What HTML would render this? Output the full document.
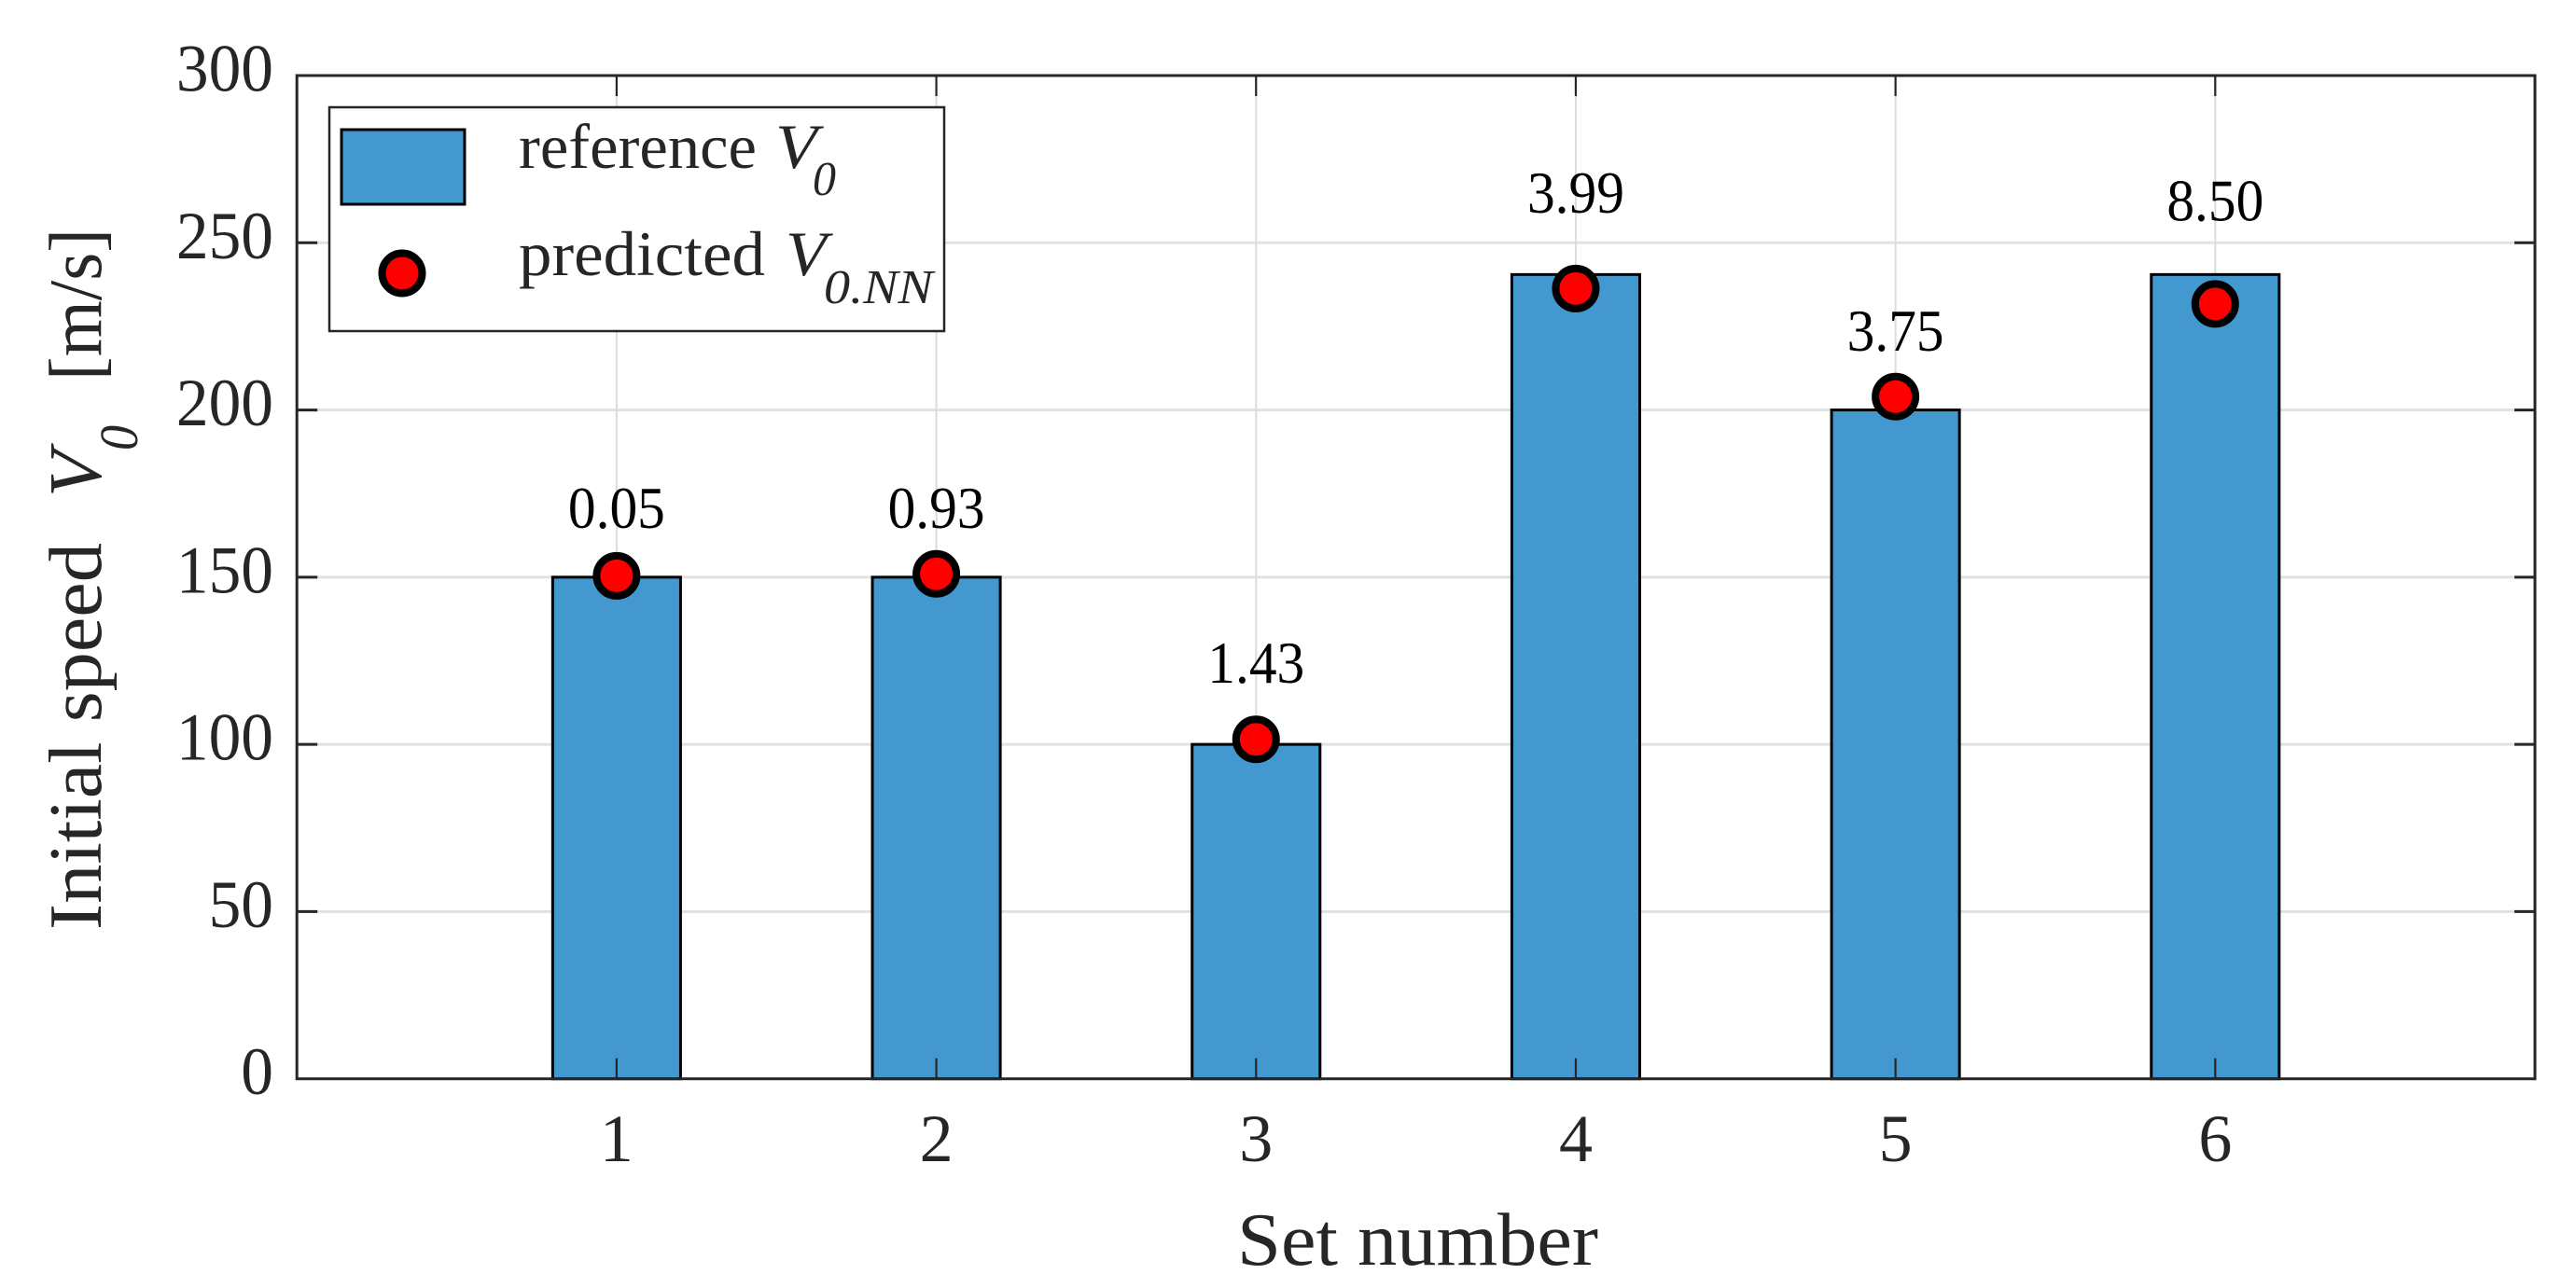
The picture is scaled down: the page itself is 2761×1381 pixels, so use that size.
<!DOCTYPE html>
<html lang="en">
<head>
<meta charset="utf-8">
<title>Initial speed per set</title>
<style>
html,body{margin:0;padding:0;background:#fff;}
svg{display:block;}
text{font-family:"Liberation Serif",serif;fill:#262626;}
</style>
</head>
<body>
<svg id="chart" xmlns="http://www.w3.org/2000/svg" width="2761" height="1381" viewBox="0 0 2761 1381">
  <rect x="0" y="0" width="2761" height="1381" fill="#ffffff"/>
  <g id="grid"></g>
  <g id="bars"></g>
  <g id="axes"></g>
  <g id="points"></g>
  <g id="labels"></g>

  <g>
    <text x="1326" y="1356" font-size="80" textLength="387" lengthAdjust="spacingAndGlyphs">Set number</text>
  </g>
  <g transform="translate(108,997) rotate(-90)">
    <text x="0" y="0" font-size="80" textLength="415" lengthAdjust="spacingAndGlyphs">Initial speed</text>
    <text x="464" y="0" font-size="80" font-style="italic" textLength="50" lengthAdjust="spacingAndGlyphs">V</text>
    <text x="514" y="39" font-size="58" font-style="italic" textLength="27" lengthAdjust="spacingAndGlyphs">0</text>
    <text x="589" y="0" font-size="80" textLength="163" lengthAdjust="spacingAndGlyphs">[m/s]</text>
  </g>

  <g>
    <rect x="353" y="115" width="659" height="240" fill="#ffffff" stroke="#262626" stroke-width="2.5"/>
    <g>
      <rect x="366" y="139" width="132" height="80" fill="#4399cf" stroke="#000000" stroke-width="3"/>
      <text x="556" y="180" font-size="68" textLength="255" lengthAdjust="spacingAndGlyphs">reference</text>
      <text x="831" y="180" font-size="68" font-style="italic" textLength="45" lengthAdjust="spacingAndGlyphs">V</text>
      <text x="871" y="209" font-size="52" font-style="italic" textLength="25" lengthAdjust="spacingAndGlyphs">0</text>
    </g>
    <g>
      <circle cx="431" cy="293" r="21.5" fill="#ff0000" stroke="#000000" stroke-width="8"/>
      <text x="556" y="295" font-size="68" textLength="264" lengthAdjust="spacingAndGlyphs">predicted</text>
      <text x="842" y="295" font-size="68" font-style="italic" textLength="44" lengthAdjust="spacingAndGlyphs">V</text>
      <text x="883" y="325" font-size="52" font-style="italic" textLength="117" lengthAdjust="spacingAndGlyphs">0.NN</text>
    </g>
  </g>
</svg>

<script>
const setNumbers = [1, 2, 3, 4, 5, 6];
const referenceValues = [150, 150, 100, 240.5, 200, 240.5];
const predictedValues = [150.4, 151, 101.5, 236.3, 204, 231.7];
const errorLabels = ['0.05', '0.93', '1.43', '3.99', '3.75', '8.50'];
const errorLabelHeights = [164.7, 164.7, 118.5, 259, 217.7, 256.6];
const yTickValues = [0, 50, 100, 150, 200, 250, 300];
const xTickValues = [1, 2, 3, 4, 5, 6];

const NS = 'http://www.w3.org/2000/svg';
const plot = { left: 318.2, right: 2717, top: 81, bottom: 1156.7 };
const xDomain = [0, 7];
const yDomain = [0, 300];
const barWidthUnits = 0.4;

function xScale(v) {
  return plot.left + (v - xDomain[0]) / (xDomain[1] - xDomain[0]) * (plot.right - plot.left);
}
function yScale(v) {
  return plot.bottom - (v - yDomain[0]) / (yDomain[1] - yDomain[0]) * (plot.bottom - plot.top);
}
function make(tag, attrs, parent) {
  const el = document.createElementNS(NS, tag);
  for (const k in attrs) el.setAttribute(k, attrs[k]);
  parent.appendChild(el);
  return el;
}

const gridG = document.getElementById('grid');
const barsG = document.getElementById('bars');
const axesG = document.getElementById('axes');
const pointsG = document.getElementById('points');
const labelsG = document.getElementById('labels');

yTickValues.forEach(function (t) {
  if (t === yDomain[0] || t === yDomain[1]) return;
  const el = make('line', { x1: plot.left, x2: plot.right, y1: yScale(t), y2: yScale(t), stroke: '#e1e1e1', 'stroke-width': 3 }, gridG);
  
  
});
xTickValues.forEach(function (t) {
  const el = make('line', { x1: xScale(t), x2: xScale(t), y1: plot.top, y2: plot.bottom, stroke: '#dcdcdc', 'stroke-width': 2 }, gridG);
  
  
});

setNumbers.forEach(function (s, i) {
  const halfWidth = (xScale(s + barWidthUnits / 2) - xScale(s - barWidthUnits / 2)) / 2;
  const el = make('rect', {
    x: xScale(s) - halfWidth,
    y: yScale(referenceValues[i]),
    width: halfWidth * 2,
    height: yScale(0) - yScale(referenceValues[i]),
    fill: '#4399cf',
    stroke: '#000000',
    'stroke-width': 3
  }, barsG);
  
  
});

yTickValues.forEach(function (t) {
  if (t !== yDomain[0] && t !== yDomain[1]) {
    const left = make('line', { x1: plot.left, x2: plot.left + 22, y1: yScale(t), y2: yScale(t), stroke: '#262626', 'stroke-width': 3 }, axesG);
    
    
    const right = make('line', { x1: plot.right, x2: plot.right - 22, y1: yScale(t), y2: yScale(t), stroke: '#262626', 'stroke-width': 3 }, axesG);
    
    
  }
  const tickText = String(t);
  const label = make('text', { x: 293, y: yScale(t) + 16.5, 'font-size': 72, 'text-anchor': 'end', textLength: tickText.length * 34.7, lengthAdjust: 'spacingAndGlyphs' }, axesG);
  
  
  label.textContent = tickText;
});
xTickValues.forEach(function (t) {
  const bottom = make('line', { x1: xScale(t), x2: xScale(t), y1: plot.bottom, y2: plot.bottom - 22, stroke: '#262626', 'stroke-width': 2.2 }, axesG);
  
  
  const top = make('line', { x1: xScale(t), x2: xScale(t), y1: plot.top, y2: plot.top + 22, stroke: '#262626', 'stroke-width': 2.2 }, axesG);
  
  
  const label = make('text', { x: xScale(t), y: 1245, 'font-size': 72, 'text-anchor': 'middle' }, axesG);
  
  
  label.textContent = String(t);
});
const box = make('rect', { x: plot.left, y: plot.top, width: plot.right - plot.left, height: plot.bottom - plot.top, fill: 'none', stroke: '#262626', 'stroke-width': 3 }, axesG);



setNumbers.forEach(function (s, i) {
  const c = make('circle', { cx: xScale(s), cy: yScale(predictedValues[i]), r: 21.5, fill: '#ff0000', stroke: '#000000', 'stroke-width': 8 }, pointsG);
  
  
  const t = make('text', { x: xScale(s), y: yScale(errorLabelHeights[i]), 'font-size': 63, 'text-anchor': 'middle', textLength: 104, lengthAdjust: 'spacingAndGlyphs', style: 'fill:#000' }, labelsG);
  
  
  t.textContent = errorLabels[i];
});
</script>
</body>
</html>
